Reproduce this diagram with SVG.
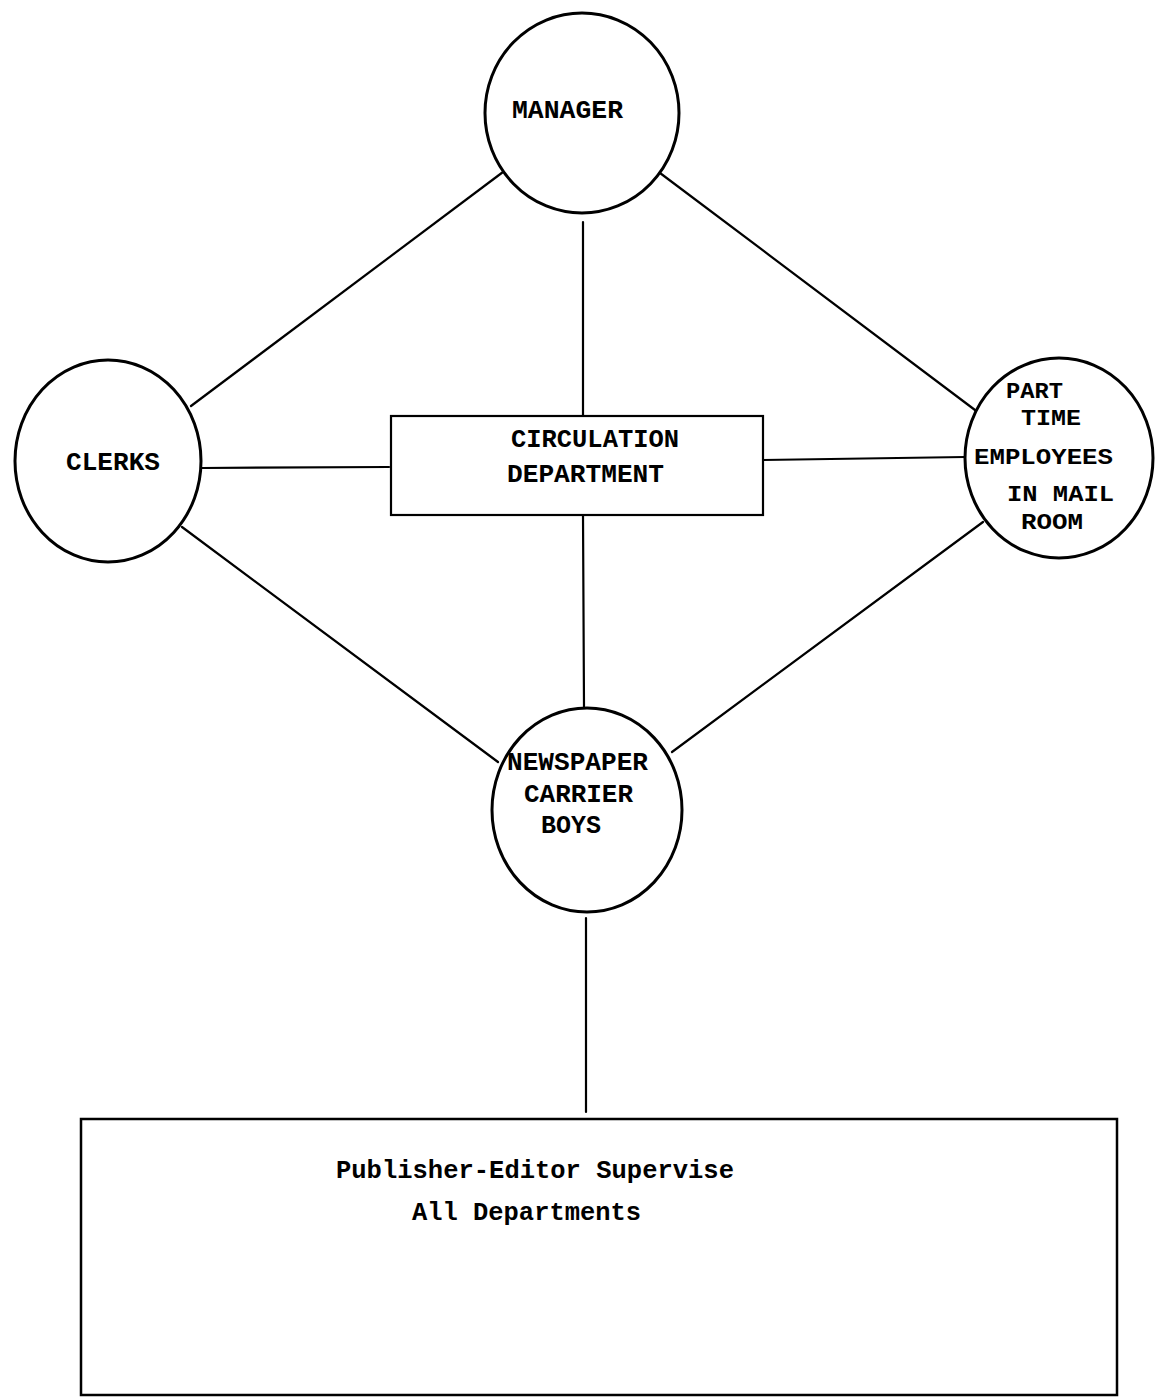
<svg xmlns="http://www.w3.org/2000/svg" width="1158" height="1400" viewBox="0 0 1158 1400">
<style>
.shape{fill:none;stroke:#000;stroke-width:3}
.conn line{stroke:#000;stroke-width:2.2;stroke-linecap:round}
text{font-family:"Liberation Mono","DejaVu Sans Mono",monospace;font-size:25px;font-weight:bold;fill:#000}
.sm{font-size:22px}
</style>
<rect width="1158" height="1400" fill="#fff"/>
<g id="connectors" class="conn">
<line x1="583" y1="222" x2="583" y2="415"/>
<line x1="583" y1="515" x2="584" y2="707"/>
<line x1="586" y1="918" x2="586" y2="1112"/>
<line x1="202" y1="468" x2="389" y2="467"/>
<line x1="763" y1="460" x2="965" y2="457"/>
<line x1="191" y1="406" x2="503" y2="172"/>
<line x1="182" y1="527" x2="498" y2="762"/>
<line x1="660" y1="173" x2="975" y2="410"/>
<line x1="983" y1="522" x2="672" y2="752"/>
</g>
<g id="manager">
<ellipse class="shape" cx="582" cy="113" rx="97" ry="100"/>
<text x="512" y="118" textLength="111" lengthAdjust="spacingAndGlyphs">MANAGER</text>
</g>
<g id="clerks">
<ellipse class="shape" cx="108" cy="461" rx="93" ry="101"/>
<text x="66" y="470" textLength="94" lengthAdjust="spacingAndGlyphs">CLERKS</text>
</g>
<g id="part-time">
<ellipse class="shape" cx="1059" cy="458" rx="94" ry="100"/>
<text class="sm" x="1006" y="398" textLength="57" lengthAdjust="spacingAndGlyphs">PART</text>
<text class="sm" x="1021" y="425" textLength="60" lengthAdjust="spacingAndGlyphs">TIME</text>
<text class="sm" x="974" y="464" textLength="139" lengthAdjust="spacingAndGlyphs">EMPLOYEES</text>
<text class="sm" x="1007" y="501" textLength="107" lengthAdjust="spacingAndGlyphs">IN MAIL</text>
<text class="sm" x="1021" y="529" textLength="62" lengthAdjust="spacingAndGlyphs">ROOM</text>
</g>
<g id="carrier-boys">
<ellipse class="shape" cx="587" cy="810" rx="95" ry="102"/>
<text x="507" y="770" textLength="141" lengthAdjust="spacingAndGlyphs">NEWSPAPER</text>
<text x="524" y="802" textLength="109" lengthAdjust="spacingAndGlyphs">CARRIER</text>
<text x="541" y="833" textLength="60" lengthAdjust="spacingAndGlyphs">BOYS</text>
</g>
<g id="circulation">
<rect class="shape" x="391" y="416" width="372" height="99" style="stroke-width:2.2"/>
<text x="511" y="447" textLength="168" lengthAdjust="spacingAndGlyphs">CIRCULATION</text>
<text x="507" y="482" textLength="157" lengthAdjust="spacingAndGlyphs">DEPARTMENT</text>
</g>
<g id="publisher">
<rect class="shape" x="81" y="1119" width="1036" height="276" style="stroke-width:2.5"/>
<text x="336" y="1178" textLength="398" lengthAdjust="spacingAndGlyphs">Publisher-Editor Supervise</text>
<text x="412" y="1220" textLength="229" lengthAdjust="spacingAndGlyphs">All Departments</text>
</g>
</svg>
